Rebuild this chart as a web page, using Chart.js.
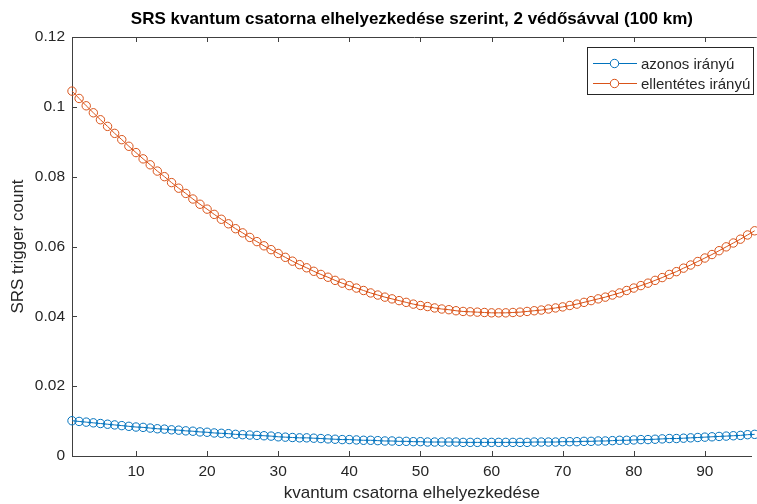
<!DOCTYPE html>
<html><head><meta charset="utf-8">
<script src="https://cdn.jsdelivr.net/npm/chart.js@4/dist/chart.umd.min.js"></script>
<style>html,body{margin:0;padding:0;background:#fff}#wrap{width:757px;height:504px;position:relative}</style>
</head><body><div id="wrap"><canvas id="c" width="757" height="504"></canvas></div>
<script>
const titleText = "SRS kvantum csatorna elhelyezkedése szerint, 2 védősávval (100 km)";
const xLabel = "kvantum csatorna elhelyezkedése";
const yLabel = "SRS trigger count";
const seriesNames = ["azonos irányú", "ellentétes irányú"];
const seriesColors = ["#0072BD", "#D95319"];

const channels = [1,2,3,4,5,6,7,8,9,10,11,12,13,14,15,16,17,18,19,20,21,22,23,24,25,26,27,28,29,30,
31,32,33,34,35,36,37,38,39,40,41,42,43,44,45,46,47,48,49,50,51,52,53,54,55,56,57,58,59,60,
61,62,63,64,65,66,67,68,69,70,71,72,73,74,75,76,77,78,79,80,81,82,83,84,85,86,87,88,89,90,
91,92,93,94,95,96,97];

const azonos = [0.0101,0.0099,0.0097,0.0095,0.0093,0.0091,0.0089,0.0087,0.0085,0.0083,
0.0082,0.0080,0.0078,0.0077,0.0075,0.0074,0.0072,0.0071,0.0069,0.0068,
0.0066,0.0065,0.0064,0.0062,0.0061,0.0060,0.0059,0.0058,0.0057,0.0055,
0.0054,0.0053,0.0052,0.0052,0.0051,0.0050,0.0049,0.0048,0.0047,0.0047,
0.0046,0.0045,0.0045,0.0044,0.0043,0.0043,0.0042,0.0042,0.0041,0.0041,
0.0040,0.0040,0.0040,0.0040,0.0040,0.0039,0.0039,0.0039,0.0039,0.0039,
0.0039,0.0039,0.0039,0.0039,0.0039,0.0040,0.0040,0.0040,0.0040,0.0041,
0.0041,0.0041,0.0042,0.0042,0.0043,0.0043,0.0044,0.0045,0.0045,0.0046,
0.0047,0.0047,0.0048,0.0049,0.0050,0.0050,0.0051,0.0052,0.0053,0.0054,
0.0055,0.0056,0.0057,0.0058,0.0059,0.0061,0.0062];

const ellentetes = [0.1045,0.1024,0.1003,0.0983,0.0963,0.0944,0.0924,0.0906,0.0887,0.0869,
0.0851,0.0834,0.0816,0.0800,0.0783,0.0767,0.0752,0.0736,0.0721,0.0707,
0.0692,0.0678,0.0665,0.0651,0.0639,0.0626,0.0614,0.0602,0.0591,0.0580,
0.0569,0.0558,0.0548,0.0539,0.0529,0.0520,0.0512,0.0503,0.0495,0.0488,
0.0481,0.0474,0.0467,0.0461,0.0455,0.0450,0.0445,0.0440,0.0435,0.0431,
0.0428,0.0424,0.0421,0.0419,0.0416,0.0414,0.0413,0.0412,0.0411,0.0410,
0.0410,0.0410,0.0411,0.0412,0.0414,0.0416,0.0418,0.0421,0.0424,0.0427,
0.0431,0.0435,0.0440,0.0445,0.0450,0.0455,0.0461,0.0467,0.0474,0.0481,
0.0488,0.0495,0.0503,0.0511,0.0520,0.0528,0.0538,0.0547,0.0557,0.0567,
0.0577,0.0588,0.0599,0.0610,0.0621,0.0633,0.0645];

const xTicks = [10,20,30,40,50,60,70,80,90];
const yTicks = [0,0.02,0.04,0.06,0.08,0.1,0.12];
const yTickLabels = ["0","0.02","0.04","0.06","0.08","0.1","0.12"];

const FONT = "'Liberation Sans', Arial, Helvetica, sans-serif";
const AXIS_COLOR = "#404040";
const TEXT_COLOR = "#262626";
Chart.defaults.font.family = FONT;
Chart.defaults.color = TEXT_COLOR;

const toPoints = (arr) => arr.map((v, i) => ({x: channels[i], y: v}));

const axesBoxPlugin = {
  id: 'axesBox',
  afterDraw(chart) {
    const {ctx, chartArea: a, scales: {x, y}} = chart;
    ctx.save();
    ctx.strokeStyle = AXIS_COLOR;
    ctx.lineWidth = 1;
    ctx.beginPath();
    // top border
    ctx.moveTo(a.left, Math.round(a.top) + 0.5);
    ctx.lineTo(a.right + 5, Math.round(a.top) + 0.5);
    const tl = 5;
    x.ticks.forEach(t => {
      const px = Math.round(x.getPixelForValue(t.value)) + 0.5;
      ctx.moveTo(px, a.bottom); ctx.lineTo(px, a.bottom - tl);
      ctx.moveTo(px, a.top); ctx.lineTo(px, a.top + tl);
    });
    y.ticks.forEach(t => {
      const py = Math.round(y.getPixelForValue(t.value)) + 0.5;
      ctx.moveTo(a.left, py); ctx.lineTo(a.left + tl, py);
    });
    ctx.stroke();

    // legend
    const lx = 587.5, ly = 47.5, lw = 166, lh = 47;
    ctx.fillStyle = '#ffffff';
    ctx.fillRect(lx, ly, lw, lh);
    ctx.strokeStyle = '#262626';
    ctx.strokeRect(lx, ly, lw, lh);
    ctx.font = "15px " + FONT;
    ctx.textBaseline = 'middle';
    ctx.textAlign = 'left';
    seriesNames.forEach((name, i) => {
      const yy = 63.5 + i * 20;
      ctx.strokeStyle = seriesColors[i];
      ctx.lineWidth = 1;
      ctx.beginPath();
      ctx.moveTo(593, yy); ctx.lineTo(637, yy);
      ctx.stroke();
      ctx.beginPath();
      ctx.arc(614.5, yy, 4.2, 0, Math.PI * 2);
      ctx.fillStyle = '#ffffff';
      ctx.fill();
      ctx.stroke();
      ctx.fillStyle = TEXT_COLOR;
      ctx.fillText(name, 641, yy + 1);
    });
    ctx.restore();
  }
};

new Chart(document.getElementById('c'), {
  type: 'line',
  data: {
    datasets: [
      {label: seriesNames[0], data: toPoints(azonos), borderColor: seriesColors[0], borderWidth: 1,
       pointRadius: 4.2, pointBorderWidth: 1, pointBackgroundColor: 'rgba(0,0,0,0)', pointBorderColor: seriesColors[0],
       tension: 0, clip: false},
      {label: seriesNames[1], data: toPoints(ellentetes), borderColor: seriesColors[1], borderWidth: 1,
       pointRadius: 4.2, pointBorderWidth: 1, pointBackgroundColor: 'rgba(0,0,0,0)', pointBorderColor: seriesColors[1],
       tension: 0, clip: false}
    ]
  },
  options: {
    responsive: false,
    animation: false,
    devicePixelRatio: 1,
    layout: {padding: {left: 0, right: 0, top: 0, bottom: 0}},
    plugins: {
      legend: {display: false},
      tooltip: {enabled: false},
      title: {
        display: true, text: titleText, fullSize: false,
        font: {family: FONT, size: 17, weight: 'bold'}, color: '#000000',
        padding: {top: 9, bottom: 7.6}
      }
    },
    scales: {
      x: {
        type: 'linear', min: 1, max: 96.6,
        afterBuildTicks: s => { s.ticks = xTicks.map(v => ({value: v})); },
        afterFit: s => { s.height = 48; },
        grid: {display: false, drawTicks: false},
        border: {display: true, color: AXIS_COLOR, width: 1},
        ticks: {padding: 6, font: {size: 15.5}, color: TEXT_COLOR, maxRotation: 0,
                callback: v => String(v)},
        title: {display: true, text: xLabel, font: {size: 17}, color: TEXT_COLOR, padding: {top: 0, bottom: 0}}
      },
      y: {
        type: 'linear', min: 0, max: 0.12,
        afterBuildTicks: s => { s.ticks = yTicks.map(v => ({value: v})); },
        afterFit: s => { s.width = 72; },
        grid: {display: false, drawTicks: false},
        border: {display: true, color: AXIS_COLOR, width: 1},
        ticks: {padding: 7, font: {size: 15.5}, color: TEXT_COLOR,
                callback: (v) => { const i = yTicks.findIndex(t => Math.abs(t - v) < 1e-9); return i >= 0 ? yTickLabels[i] : ''; }},
        title: {display: true, text: yLabel, font: {size: 17}, color: TEXT_COLOR, padding: {top: 8, bottom: 0}}
      }
    }
  },
  plugins: [axesBoxPlugin]
});
</script>
</body></html>
